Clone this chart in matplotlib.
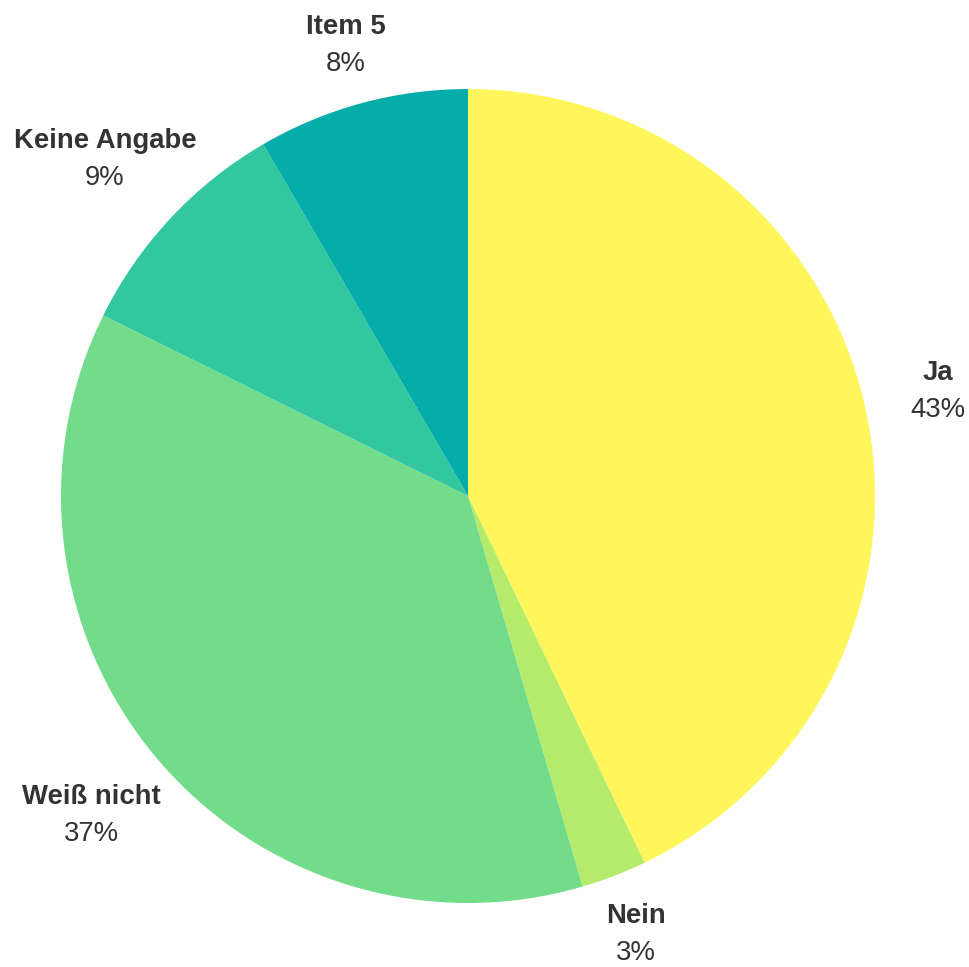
import matplotlib
matplotlib.use("Agg")
import matplotlib.pyplot as plt
import numpy as np

categories = ["Ja", "Nein", "Weiß nicht", "Keine Angabe", "Item 5"]
values = [42.9, 2.6, 36.9, 9.3, 8.4]
colors = ["#FEF65A", "#B5EB6B", "#73DC8A", "#33C7A0", "#05ADAA"]

# label distance from pie centre along each slice's mid-angle (pixels, layout only)
label_dist = [482, 467, 492, 497, 470]

plt.rcParams['font.family'] = ['Liberation Sans', 'DejaVu Sans']

W, H = 969, 967
fig = plt.figure(figsize=(W / 100, H / 100), dpi=100)
ax = fig.add_axes([0, 0, 1, 1])

cx, cy, r = 468, H - 496, 407
wedges, _ = ax.pie(values, colors=colors, startangle=90, counterclock=False,
                   radius=r, center=(cx, cy), frame=True,
                   wedgeprops=dict(linewidth=0))
ax.set_xlim(0, W)
ax.set_ylim(0, H)
ax.set_aspect('equal')
ax.axis('off')

total = sum(values)
line_gap = 37
for w, name, v, d in zip(wedges, categories, values, label_dist):
    ang = np.deg2rad((w.theta1 + w.theta2) / 2)
    px, py = cx + d * np.cos(ang), cy + d * np.sin(ang) - 3
    ax.text(px, py + line_gap / 2, name, fontsize=19.8, fontweight='bold',
            color='#333333', ha='center', va='center')
    ax.text(px, py - line_gap / 2, f"{round(v / total * 100):.0f}%", fontsize=19.8,
            color='#333333', ha='center', va='center')

fig.savefig("out.png", dpi=100, facecolor='white')
